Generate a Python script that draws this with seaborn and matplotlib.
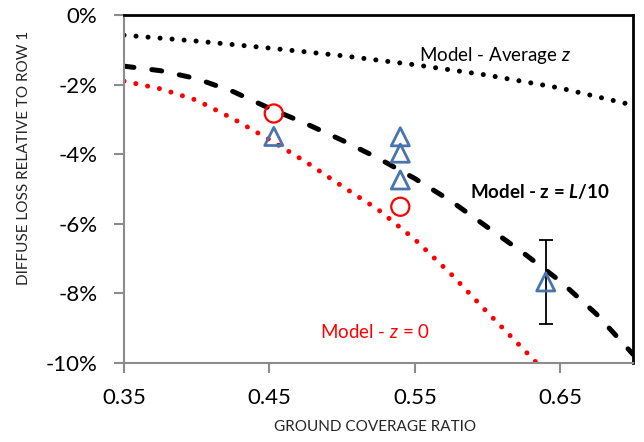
import matplotlib
matplotlib.use("Agg")

import matplotlib.pyplot as plt
import seaborn as sns
from matplotlib.ticker import FuncFormatter

# values (loss in percent)
gcr_avg = [0.35, 0.40, 0.45, 0.50, 0.55, 0.60, 0.65, 0.70]
loss_avg = [-0.58, -0.75, -0.95, -1.17, -1.43, -1.73, -2.10, -2.59]

gcr_l10 = [0.35, 0.375, 0.40, 0.425, 0.45, 0.475, 0.50, 0.525,
           0.55, 0.575, 0.60, 0.625, 0.65, 0.675, 0.70]
loss_l10 = [-1.47, -1.60, -1.83, -2.20, -2.68, -3.12, -3.60, -4.12,
            -4.70, -5.35, -6.10, -6.85, -7.65, -8.60, -9.75]

gcr_z0 = [0.35, 0.375, 0.40, 0.425, 0.45, 0.475, 0.50, 0.525,
          0.55, 0.575, 0.60, 0.625, 0.635]
loss_z0 = [-1.90, -2.12, -2.45, -2.98, -3.58, -4.22, -4.92, -5.60,
           -6.45, -7.45, -8.55, -9.62, -10.05]

circle_gcr = [0.453, 0.54]
circle_loss = [-2.83, -5.51]

tri_gcr = [0.453, 0.54, 0.54, 0.54, 0.64]
tri_loss = [-3.49, -3.50, -3.97, -4.74, -7.67]

err_gcr = [0.64]
err_loss = [-7.67]
err_size = [1.21]

x_ticks = [0.35, 0.45, 0.55, 0.65]
y_ticks = [0, -2, -4, -6, -8, -10]

sns.set_style("ticks")
plt.rcParams["font.family"] = ["Lato", "DejaVu Sans"]
plt.rcParams["mathtext.fontset"] = "custom"
plt.rcParams["mathtext.rm"] = "Lato"
plt.rcParams["mathtext.it"] = "Lato:italic"
plt.rcParams["mathtext.bf"] = "Lato:bold"
plt.rcParams["mathtext.bfit"] = "Lato:bold:italic"

fig = plt.figure(figsize=(6.44, 4.42), dpi=100)
ax = fig.add_axes([124 / 644, 79 / 442, 509 / 644, 348 / 442])

dotted = (0, (0.01, 2.4))

sns.lineplot(x=gcr_avg, y=loss_avg, ax=ax, color="black", lw=3.6,
             linestyle=dotted, dash_capstyle="round")
sns.lineplot(x=gcr_l10, y=loss_l10, ax=ax, color="black", lw=3.6,
             linestyle=(0, (2.0, 3.6)), dash_capstyle="round")
sns.lineplot(x=gcr_z0, y=loss_z0, ax=ax, color="#ff0000", lw=3.6,
             linestyle=dotted, dash_capstyle="round")

ax.errorbar(err_gcr, err_loss, yerr=err_size, fmt="none", ecolor="black",
            elinewidth=1.3, capsize=5, capthick=1.3, zorder=3)

sns.scatterplot(x=circle_gcr, y=circle_loss, ax=ax, marker="o", s=170,
                color="#ff0000", facecolor="none", edgecolor="#ff0000",
                linewidth=1.6, zorder=4)
sns.scatterplot(x=tri_gcr, y=tri_loss, ax=ax, marker="^", s=170,
                color="#4a74ac", facecolor="none", edgecolor="#4a74ac",
                linewidth=2.0, zorder=4)

ax.set_xlim(0.35, 0.70)
ax.set_ylim(-10, 0)
ax.set_xticks(x_ticks)
ax.set_yticks(y_ticks)
ax.xaxis.set_major_formatter(FuncFormatter(lambda v, p: f"{v:.2f}"))
ax.yaxis.set_major_formatter(FuncFormatter(lambda v, p: f"{v:.0f}%"))

for side in ["top", "right"]:
    ax.spines[side].set_color("black")
    ax.spines[side].set_linewidth(2)
for side in ["left", "bottom"]:
    ax.spines[side].set_color("#8c8c8c")
    ax.spines[side].set_linewidth(1.5)

ax.tick_params(axis="both", direction="out", length=7, width=1.5,
               color="#8c8c8c", labelsize=16, labelcolor="black")
ax.tick_params(axis="x", pad=11)
ax.tick_params(axis="y", pad=12)

ax.set_ylabel("DIFFUSE LOSS RELATIVE TO ROW 1", fontsize=11)
ax.yaxis.set_label_coords(-0.183, 0.589)
ax.set_xlabel("GROUND COVERAGE RATIO", fontsize=11)
ax.xaxis.set_label_coords(0.493, -0.164)

ax.text(0.553, -1.15, "Model - Average $z$", fontsize=13.5,
        color="black", va="center", ha="left")
ax.text(0.588, -5.08, r"Model - z = $\mathbfit{L}$/10", fontsize=13.5,
        fontweight="bold", color="black", va="center", ha="left")
ax.text(0.4846, -9.10, "Model - $z$ = 0", fontsize=13.5,
        color="#ff0000", va="center", ha="left")

fig.savefig("out.png", dpi=100)
plt.close(fig)
